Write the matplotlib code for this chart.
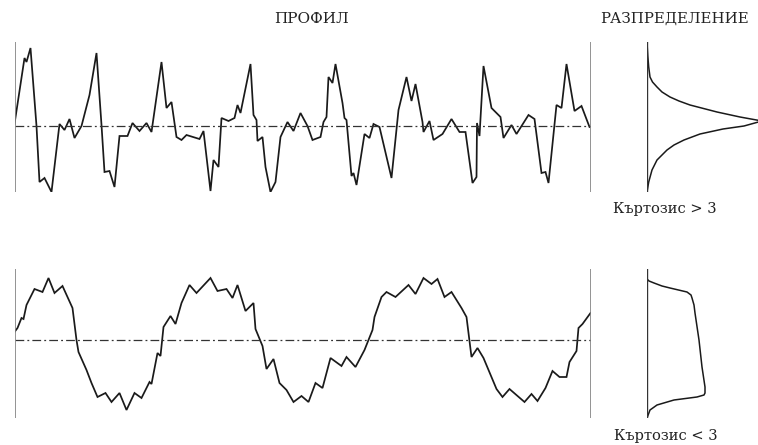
from matplotlib import pyplot as plt
import numpy as np

########## data ##########
# profile position (px along the trace) and height above the mean line

top_x = [0, 10, 12, 16, 22, 25, 30, 37, 45, 50, 55, 60, 67, 75, 82, 87, 90, 95, 100,
         105, 113, 118, 125, 132, 137, 147, 152, 157, 162, 167, 172, 185, 189, 196,
         199, 204, 207, 214, 220, 223, 226, 236, 239, 242, 243, 248, 251, 256, 261,
         266, 273, 279, 286, 293, 298, 306, 309, 312, 314, 318, 321, 328, 330, 332,
         337, 339, 342, 350, 355, 359, 365, 377, 384, 392, 397, 401, 408, 409, 415,
         419, 428, 437, 445, 451, 458, 462, 462.5, 465, 469, 477, 486, 489, 497, 502,
         514, 520, 527, 531, 534, 542, 547, 552, 560, 567, 575]
top_h = [2, 68, 64, 78, 0, -56, -52, -66, 2, -4, 7, -12, 0, 31, 73, 1, -46, -45, -61,
         -10, -10, 3, -5, 3, -6, 64, 18, 24, -11, -14, -9, -13, -5, -65,
         -34, -41, 8, 5, 8, 21, 13, 62, 11, 6, -15, -11, -41, -66, -56,
         -11, 4, -5, 13, 0, -14, -11, 4, 9, 49, 43, 62, 23, 8, 6,
         -50, -47, -59, -8, -12, 2, -1, -52, 16, 49, 25, 42, 4, -6, 5,
         -14, -8, 7, -6, -6, -57, -51, 3, -10, 60, 18, 9, -12, 1, -8,
         11, 7, -47, -46, -57, 21, 18, 62, 15, 20, -1]

bot_x = [0, 3, 7, 9, 12, 20, 28, 34, 40, 48, 58, 62, 64, 72, 77, 83, 91, 97, 105,
         112, 120, 127, 135, 137, 143, 146, 149, 156, 161, 167, 175, 182, 196, 203,
         212, 218, 223, 231, 239, 241, 248, 252, 259, 265, 272, 279, 287, 294, 301,
         308, 316, 327, 332, 341, 350, 354, 358, 360, 367, 372, 381, 394, 401, 409,
         417, 423, 430, 437, 447, 452, 454, 457, 463, 469, 482, 488, 495, 510, 517,
         523, 531, 538, 545, 552, 555, 562, 564, 568, 576]
bot_h = [8, 12, 22, 21, 35, 51, 48, 62, 47, 54, 32, 0, -12, -30, -43, -57, -53, -62, -53,
         -70, -53, -58, -42, -44, -13, -16, 13, 24, 16, 37, 55, 47, 62, 49,
         51, 42, 55, 29, 37, 11, -6, -29, -19, -43, -50, -62, -56, -62, -43,
         -48, -18, -26, -17, -27, -10, 0, 10, 23, 43, 48, 43, 55, 46, 62,
         56, 61, 43, 48, 32, 23, 7, -17, -8, -18, -49, -57, -49, -62, -54,
         -61, -48, -31, -37, -37, -22, -11, 12, 16, 27]

# distribution shapes: height and width from the base line
top_dist_h = [83, 70, 59, 49, 44, 39, 34, 29, 25, 21, 14, 9, 5, 0, -3, -8, -14, -19,
              -24, -34, -44, -56, -66]
top_dist_w = [0, 0.8, 1.7, 3, 5.5, 10, 15, 23, 32, 43, 70, 93, 115, 97, 76, 53, 37, 27,
              20, 10, 5, 1.7, 0]

bot_dist_h = [61, 59, 57, 54, 52, 48, 45, 42, 35, 27, 0, -27, -47, -53, -55, -57, -60,
              -65, -70, -78]
bot_dist_w = [0, 2, 7, 15, 23, 40, 44, 45, 47, 48, 52, 55, 58, 58, 57, 50, 27,
              10, 3, 0]

title_profile = "ПРОФИЛ"
title_dist = "РАЗПРЕДЕЛЕНИЕ"
label_top = "Къртозис > 3"
label_bot = "Къртозис < 3"

W, H = 758, 445
fig = plt.figure(figsize=(W/100, H/100), dpi=100)
fig.patch.set_facecolor("white")


########## px_axes ##########
# place an axes from pixel box (left, top, right, bottom) of the picture
def px_axes(l, t, r, b):
    ax = fig.add_axes([l/W, 1-b/H, (r-l)/W, (b-t)/H])
    ax.axis("off")
    return ax


def profile(ax, x, h, ylo, yhi):
    ax.plot(x, h, color="#1a1a1a", lw=1.25, solid_joinstyle="miter")
    ax.axhline(0, color="#333333", lw=0.9, ls=(0, (7, 2.5, 1.5, 2.5)))
    ax.axvline(0, color="#808080", lw=1.2)
    ax.axvline(576, color="#808080", lw=1.2)
    ax.set_xlim(0, 576)
    ax.set_ylim(ylo, yhi)


def distribution(ax, w, h, ylo, yhi):
    ax.plot(w, h, color="#1a1a1a", lw=1.1)
    ax.axvline(0, color="#333333", lw=1.0)
    ax.set_xlim(0, 111)
    ax.set_ylim(ylo, yhi)


profile(px_axes(14.5, 42, 590.5, 192), top_x, top_h, -66, 84)
profile(px_axes(14.5, 269, 590.5, 418), bot_x, bot_h, -78, 71)
distribution(px_axes(647, 42, 758, 192), top_dist_w, top_dist_h, -66, 84)
distribution(px_axes(647, 269, 758, 418), bot_dist_w, bot_dist_h, -78, 71)

# wide serif like the bitmap Times of the original
font = dict(family="DejaVu Serif", color="#222222", ha="center", va="center")
fig.text(312/W, 1-19/H, title_profile, fontsize=11, **font)
fig.text(675/W, 1-19/H, title_dist, fontsize=10.8, **font)
fig.text(665/W, 1-209/H, label_top, fontsize=10.5, **font)
fig.text(666/W, 1-436/H, label_bot, fontsize=10.5, **font)

fig.savefig("out.png", dpi=100)
